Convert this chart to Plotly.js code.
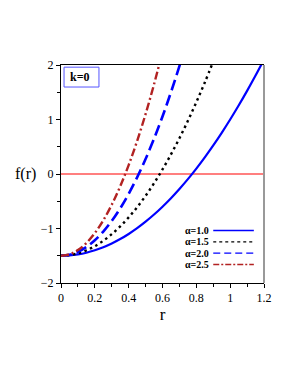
<!DOCTYPE html>
<html><head><meta charset="utf-8">
<script src="https://cdn.plot.ly/plotly-3.0.1.min.js"></script>
<style>html,body{margin:0;padding:0;background:#fff}#chart{width:291px;height:376px}</style>
</head><body><div id="chart"></div>
<script>
// r samples and f(r) values
const r1 = [0,0.05,0.1,0.15,0.2,0.25,0.3,0.35,0.4,0.45,0.5,0.55,0.6,0.65,0.7,0.75,0.8,0.85,0.9,0.95,1.0,1.05,1.1,1.15,1.2];
const f1 = [-1.5,-1.494,-1.475,-1.444,-1.4,-1.344,-1.275,-1.194,-1.1,-0.994,-0.875,-0.744,-0.6,-0.444,-0.275,-0.094,0.1,0.306,0.525,0.756,1.0,1.256,1.525,1.806,2.1];
const r15 = [0,0.05,0.1,0.15,0.2,0.25,0.3,0.35,0.4,0.45,0.5,0.55,0.6,0.65,0.7,0.75,0.8,0.85,0.9];
const f15 = [-1.5,-1.489,-1.456,-1.401,-1.324,-1.225,-1.104,-0.961,-0.796,-0.609,-0.4,-0.169,0.084,0.359,0.656,0.975,1.316,1.679,2.064];
const r2 = [0,0.05,0.1,0.15,0.2,0.25,0.3,0.35,0.4,0.45,0.5,0.55,0.6,0.65,0.7,0.75];
const f2 = [-1.5,-1.482,-1.429,-1.34,-1.216,-1.056,-0.861,-0.63,-0.364,-0.062,0.275,0.648,1.056,1.5,1.979,2.494];
const r25 = [0,0.05,0.1,0.15,0.2,0.25,0.3,0.35,0.4,0.45,0.5,0.55,0.6];
const f25 = [-1.5,-1.474,-1.396,-1.266,-1.084,-0.85,-0.564,-0.226,0.164,0.606,1.1,1.646,2.244];
const zeroX = [0,1.2];
const zeroY = [0,0];
const seriesNames = ["α=1.0","α=1.5","α=2.0","α=2.5"];
const xTicks = [0,0.2,0.4,0.6,0.8,1,1.2];
const xTickText = ["0","0.2","0.4","0.6","0.8","1","1.2"];
const yTicks = [-2,-1,0,1,2];
const yTickText = ["−2","−1","0","1","2"];

const colors = ["#0000ff","#000000","#0000ff","#b22222"];
const dashes = ["solid","2.5px,3.5px","11px,5px","8px,3px,2px,3px"];
const widths = [2.2,2.4,2.6,2.4];

const traces = [
  {x: zeroX, y: zeroY, mode:"lines", line:{color:"#ff0000", width:1.2}, showlegend:false, hoverinfo:"skip"}
];
const rs=[r1,r15,r2,r25], fs=[f1,f15,f2,f25];
for (let i=0;i<4;i++){
  traces.push({x: rs[i], y: fs[i], mode:"lines", name: seriesNames[i],
    line:{color:colors[i], dash:dashes[i], width:widths[i], shape:"spline"}, showlegend:false});
}

const serif = "Liberation Serif, Times New Roman, serif";
const annotations = [
  {xref:"paper", yref:"paper", x:-0.115, y:0.5, text:"f(r)", showarrow:false, xanchor:"right", yanchor:"middle", font:{family:serif, size:16, color:"#000"}},
  {xref:"paper", yref:"paper", x:0.095, y:0.945, text:"<b>k=0</b>", showarrow:false, xanchor:"center", yanchor:"middle", font:{family:serif, size:12, color:"#000"}}
];
const shapes = [
  {type:"rect", xref:"paper", yref:"paper", x0:0.015, x1:0.187, y0:0.899, y1:0.99, line:{color:"#5555ff", width:1}, fillcolor:"rgba(0,0,0,0)"},
  {type:"line", xref:"paper", yref:"paper", x0:1, x1:1, y0:0, y1:1, line:{color:"#999999", width:2}}
];
// legend rows (text left, sample right)
const legY = [0.241, 0.189, 0.137, 0.085];
for (let i=0;i<4;i++){
  annotations.push({xref:"paper", yref:"paper", x:0.74, y:legY[i], text:"<b>"+seriesNames[i]+"</b>", showarrow:false, xanchor:"right", yanchor:"middle", font:{family:serif, size:10, color:"#000"}});
  shapes.push({type:"line", xref:"paper", yref:"paper", x0:0.75, x1:0.95, y0:legY[i], y1:legY[i], line:{color:colors[i], dash: i==1?"dot":(i==2?"7px,4px":(i==3?"6px,2px,2px,2px":"solid")), width: i==1?1.2:1.4}});
}

const layout = {
  width:291, height:376,
  margin:{l:61, r:27, t:65, b:93, pad:0},
  paper_bgcolor:"#fff", plot_bgcolor:"#fff",
  showlegend:false,
  xaxis:{range:[0,1.2], tickvals:xTicks, ticktext:xTickText, ticks:"outside", ticklen:4, tickcolor:"#000",
    showline:true, linecolor:"#000", linewidth:1, mirror:true, showgrid:false, zeroline:false,
    minor:{dtick:0.1, ticks:"outside", ticklen:3, tickcolor:"#000", showgrid:false},
    tickfont:{family:serif, size:12, color:"#000"},
    title:{text:"r", font:{family:serif, size:17, color:"#000"}, standoff:2}},
  yaxis:{range:[-2,2], tickvals:yTicks, ticktext:yTickText, ticks:"outside", ticklen:4, tickcolor:"#000",
    showline:true, linecolor:"#000", linewidth:1, mirror:false, showgrid:false, zeroline:false,
    minor:{dtick:0.5, ticks:"outside", ticklen:3, tickcolor:"#000", showgrid:false},
    tickfont:{family:serif, size:12, color:"#000"}},
  annotations, shapes
};
Plotly.newPlot("chart", traces, layout, {staticPlot:true, displayModeBar:false});
</script></body></html>
